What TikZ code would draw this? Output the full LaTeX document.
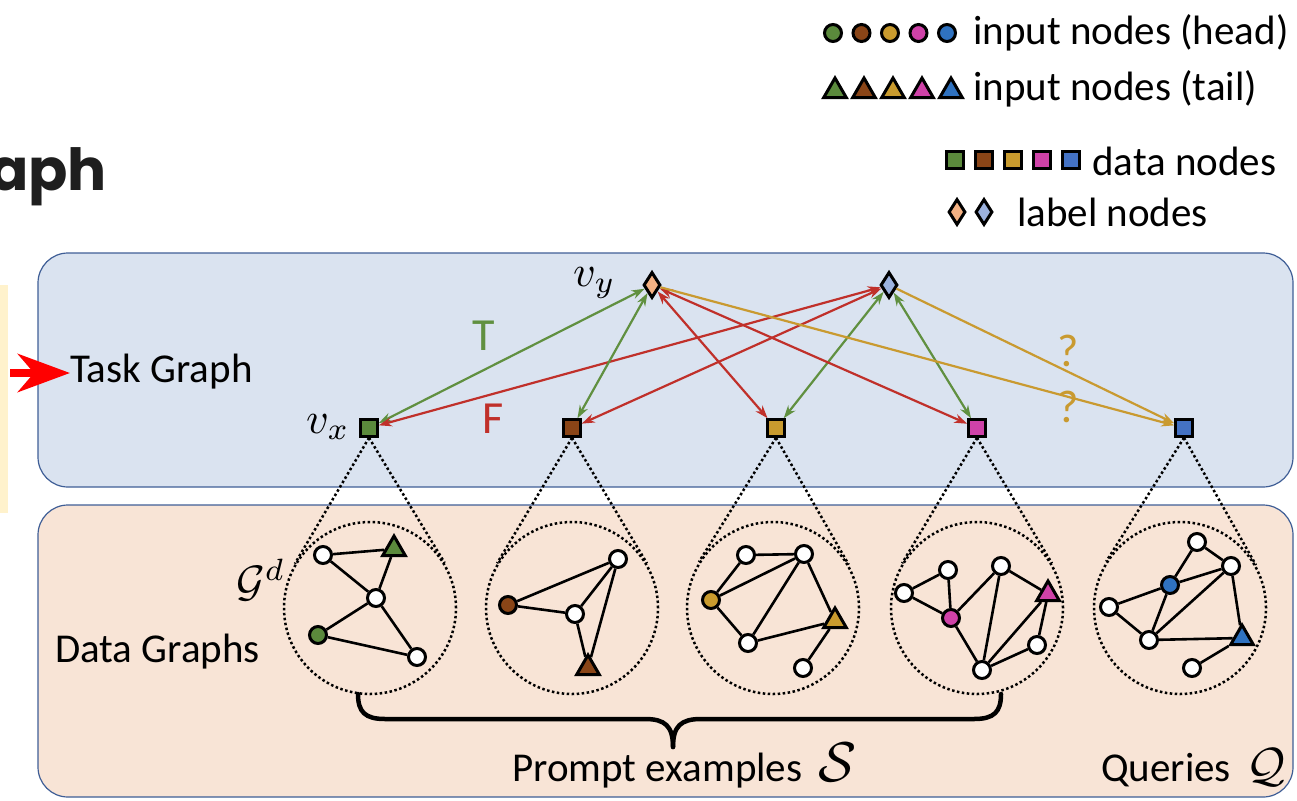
\documentclass[tikz,border=0pt]{standalone}
\usepackage{graphicx}
\usepackage{fontspec}
\setmainfont{Carlito}
\newfontfamily\titlefont{Poppins}
\usetikzlibrary{calc,arrows.meta,shapes.geometric}
\definecolor{cgreen}{HTML}{5B8A3C}
\definecolor{cbrown}{HTML}{8A4517}
\definecolor{cgold}{HTML}{C99B2E}
\definecolor{cpink}{HTML}{CF42A8}
\definecolor{cblue}{HTML}{4472C4}
\definecolor{cblue2}{HTML}{2F72C0}
\definecolor{agreen}{HTML}{609040}
\definecolor{ared}{HTML}{C0302A}
\definecolor{agold}{HTML}{C99A30}
\definecolor{dorange}{HTML}{F4B183}
\definecolor{dblue}{HTML}{9CB2DE}
\definecolor{taskfill}{HTML}{DAE3F0}
\definecolor{datafill}{HTML}{F8E4D6}
\definecolor{boxline}{HTML}{3F5E96}
\definecolor{stripfill}{HTML}{FFF2CC}
\definecolor{titlecol}{HTML}{1E1E1E}
\newcommand{\bigmath}[1]{\scalebox{4.4}{$#1$}}
\newcommand{\txtmath}[2]{{\fontsize{10}{12}\selectfont\scalebox{#1}{$#2$}}}
\tikzset{
  lbl/.style={font=\fontsize{41}{45}\selectfont, inner sep=0pt, text=black},
  mlbl/.style={inner sep=0pt, text=black},
  big/.style={font=\fontsize{46}{50}\selectfont, inner sep=0pt},
  sq/.style={rectangle, draw=black, line width=3pt, fill=#1, minimum size=16.5pt, inner sep=0pt},
  dia/.style={diamond, draw=black, line width=3pt, fill=#1, minimum width=17pt, minimum height=26pt, inner sep=0pt},
  wn/.style={circle, draw=black, line width=3pt, fill=white, minimum size=17pt, inner sep=0pt},
  cn/.style={wn, fill=#1},
  tn/.style={regular polygon, regular polygon sides=3, draw=black, line width=3pt, fill=#1, minimum size=26pt, inner sep=0pt},
  ed/.style={line width=2.6pt, draw=black},
  dotl/.style={line width=2.5pt, dash pattern=on 2.5pt off 2.5pt},
  dc/.style={circle, draw=black, dotl, minimum size=172pt, inner sep=0pt},
  ar/.style={line width=2.2pt, {Stealth[length=13pt,width=9pt]}-{Stealth[length=13pt,width=9pt]}},
  arq/.style={line width=2.2pt, -{Stealth[length=13pt,width=9pt]}},
  bracepath/.style={line width=4.5pt, line cap=round, line join=round, draw=black},
  panel/.style={draw=boxline, line width=1.2pt, rounded corners=30pt},
}
\begin{document}
\begin{tikzpicture}[x=1pt,y=-1pt]
\useasboundingbox (0,0) rectangle (1297,800);
% title fragment and strip
\node[font=\titlefont\bfseries\fontsize{58}{64}\selectfont, text=titlecol, anchor=base west, inner sep=0pt] (ttl) at (-11,190) {aph};
\fill[stripfill] (0,285) rectangle (8,513);
% panels
\draw[panel, fill=taskfill] (38,253) rectangle (1293,487);
\draw[panel, fill=datafill] (38,505) rectangle (1293,797);
% panel labels
\node[lbl, anchor=base west] (tg) at (70,382) {Task Graph};
\coordinate (ra) at (10,373);
\draw[line width=8pt, red, -{Stealth[length=52pt,width=38pt,inset=16pt]}] (ra) -- (ra -| tg.west);
\node[lbl, anchor=base west] (dg) at (55,662) {Data Graphs};
\node[mlbl, anchor=base west] (gd) at (236,596) {\bigmath{\mathcal{G}^d}};
% task graph nodes
\node[sq=cgreen] (sx1) at (369,428) {};
\node[sq=cbrown] (sx2) at (572,428) {};
\node[sq=cgold] (sx3) at (776,428) {};
\node[sq=cpink] (sx4) at (977,428) {};
\node[sq=cblue] (sx5) at (1184,428) {};
\node[dia=dorange] (dy1) at (652,285) {};
\node[dia=dblue] (dy2) at (889,285) {};
\node[mlbl, anchor=base west] (vx) at (306,433) {\bigmath{v_x}};
\node[mlbl, anchor=base west] (vy) at (573,286) {\bigmath{v_y}};
% task graph arrows
\draw[ar, agreen] (sx1) -- (dy1);
\draw[ar, ared] (dy2) -- (sx1);
\draw[ar, agreen] (dy1) -- (sx2);
\draw[ar, ared] (dy2) -- (sx2);
\draw[ar, ared] (dy1) -- (sx3);
\draw[ar, agreen] (dy2) -- (sx3);
\draw[ar, ared] (dy1) -- (sx4);
\draw[ar, agreen] (dy2) -- (sx4);
\draw[arq, agold] (dy1) -- (sx5);
\draw[arq, agold] (dy2) -- (sx5);
\node[big, text=agreen] (lt) at (484,336) {T};
\node[big, text=ared] (lf) at (493,419) {F};
\node[big, text=agold] (lq1) at (1068,351) {?};
\node[big, text=agold] (lq2) at (1068,407) {?};
% data graph circles
\node[dc] (c1) at (370,608) {};
\node[dc] (c2) at (572,608) {};
\node[dc] (c3) at (773,608) {};
\node[dc] (c4) at (977,608) {};
\node[dc] (c5) at (1180,608) {};
\foreach \i in {1,...,5}{
  \draw[dotl] (sx\i.south) -- (tangent cs:node=c\i,point={(sx\i.south)},solution=1);
  \draw[dotl] (sx\i.south) -- (tangent cs:node=c\i,point={(sx\i.south)},solution=2);
}
% graph 1
\node[wn] (a1) at (323,555) {};
\node[tn=cgreen] (a2) at (394,549) {};
\node[wn] (a3) at (376,598) {};
\node[cn=cgreen] (a4) at (318,635) {};
\node[wn] (a5) at (417,657) {};
\draw[ed] (a1) -- (a2) (a1) -- (a3) (a2) -- (a3) (a3) -- (a4) (a4) -- (a5) (a3) -- (a5);
% graph 2
\node[wn] (b1) at (618,559) {};
\node[cn=cbrown] (b2) at (508,605) {};
\node[wn] (b3) at (575,614) {};
\node[tn=cbrown] (b4) at (588,668) {};
\draw[ed] (b2) -- (b1) (b2) -- (b3) (b3) -- (b1) (b3) -- (b4) (b4) -- (b1);
% graph 3
\node[wn] (e1) at (746,555) {};
\node[wn] (e2) at (804,554) {};
\node[cn=cgold] (e3) at (711,600) {};
\node[tn=cgold] (e4) at (835,621) {};
\node[wn] (e5) at (748,643) {};
\node[wn] (e6) at (803,668) {};
\draw[ed] (e3) -- (e1) (e1) -- (e2) (e3) -- (e2) (e2) -- (e5) (e2) -- (e4) (e3) -- (e5) (e5) -- (e4) (e4) -- (e6);
% graph 4
\node[wn] (f1) at (948,570) {};
\node[wn] (f2) at (904,593) {};
\node[cn=cpink] (f3) at (951,618) {};
\node[wn] (f4) at (1001,566) {};
\node[tn=cpink] (f5) at (1048,594) {};
\node[wn] (f6) at (1037,645) {};
\node[wn] (f7) at (982,670) {};
\draw[ed] (f2) -- (f1) (f2) -- (f3) (f1) -- (f3) (f3) -- (f4) (f3) -- (f7) (f4) -- (f7) (f4) -- (f5) (f5) -- (f7) (f5) -- (f6) (f6) -- (f7);
% graph 5
\node[wn] (g1) at (1197,542) {};
\node[wn] (g2) at (1231,566) {};
\node[cn=cblue2] (g3) at (1170,585) {};
\node[wn] (g4) at (1109,607) {};
\node[wn] (g5) at (1149,640) {};
\node[tn=cblue2] (g6) at (1242,638) {};
\node[wn] (g7) at (1192,668) {};
\draw[ed] (g1) -- (g3) (g1) -- (g2) (g3) -- (g2) (g4) -- (g3) (g4) -- (g5) (g3) -- (g5) (g5) -- (g2) (g2) -- (g6) (g5) -- (g6) (g6) -- (g7);
% brace
\draw[bracepath] (358,694) .. controls (358,712) and (365,719) .. (385,719) -- (645,719) .. controls (665,719) and (673,726) .. (673,747);
\draw[bracepath] (1001,694) .. controls (1001,712) and (994,719) .. (974,719) -- (701,719) .. controls (681,719) and (673,726) .. (673,747);
\node[lbl, anchor=base west] (pe) at (512,781) {Prompt examples\hskip 16pt\txtmath{5.6}{\mathcal{S}}};
\node[lbl, anchor=base west] (qq) at (1101,781) {Queries\hskip 16pt\txtmath{4.8}{\mathcal{Q}}};
% legend
\foreach \c [count=\k from 0] in {cgreen,cbrown,cgold,cpink,cblue2}{
  \node[cn=\c] (lc\k) at (833+28.5*\k,33) {};
  \node[tn=\c] (lt\k) at (835+29*\k,91) {};
}
\foreach \c [count=\k from 0] in {cgreen,cbrown,cgold,cpink,cblue}{
  \node[sq=\c] (ls\k) at (955+29*\k,160) {};
}
\node[dia=dorange] (ld0) at (957,212) {};
\node[dia=dblue] (ld1) at (984,212) {};
\node[lbl, anchor=base west] (l1) at (973,45) {input nodes (head)};
\node[lbl, anchor=base west] (l2) at (973,100) {input nodes (tail)};
\node[lbl, anchor=base west] (l3) at (1092,175) {data nodes};
\node[lbl, anchor=base west] (l4) at (1017,226) {label nodes};
\end{tikzpicture}
\end{document}
